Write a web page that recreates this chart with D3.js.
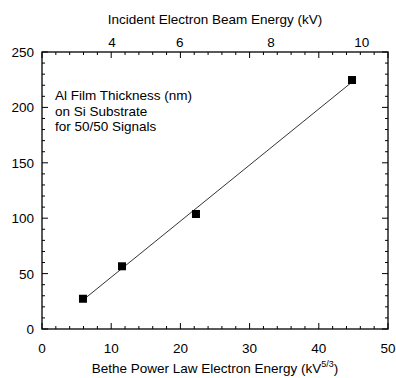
<!DOCTYPE html>
<html><head><meta charset="utf-8">
<script src="https://cdn.jsdelivr.net/npm/d3@7"></script>
<style>
html,body{margin:0;padding:0;background:#fff;}
svg{display:block;font-family:"Liberation Sans",Arial,sans-serif;}
</style></head>
<body>
<svg id="chart" width="396" height="378"></svg>
<script>
// Data
const betheEnergy = [5.92, 11.56, 22.25, 44.8];     // kV^(5/3)
const filmThickness = [27.3, 56.6, 103.8, 224.7];   // nm
const fitX = [5.92, 44.8];
const fitY = [26.1, 222.9];
const topTickLabels = ["4", "6", "8", "10"];        // incident beam energy (kV)
const topTickPos = [10.1, 19.9, 33.1, 46.2];        // position on Bethe axis
const annotationLines = ["Al Film Thickness (nm)", "on Si Substrate", "for 50/50 Signals"];

const svg = d3.select("#chart");
const m = {l: 42, r: 8, t: 52, b: 49};
const W = 396, H = 378;
const x = d3.scaleLinear().domain([0, 50]).range([m.l, W - m.r]);
const y = d3.scaleLinear().domain([0, 250]).range([H - m.b, m.t]);
const x0 = x.range()[0], x1 = x.range()[1], y0 = y.range()[0], y1 = y.range()[1];

const g = svg.append("g");
// frame
g.append("rect").attr("x", x0).attr("y", y1).attr("width", x1 - x0).attr("height", y0 - y1)
  .attr("fill", "none").attr("stroke", "#000").attr("stroke-width", 1.3);

const xMinor = d3.range(0, 51, 2).filter(v => v % 10 !== 0);
const xMajor = d3.range(0, 51, 10);
const yMinor = d3.range(0, 251, 10).filter(v => v % 50 !== 0);
const yMajor = d3.range(0, 251, 50);
const tk = g.append("g").attr("stroke", "#000").attr("stroke-width", 1);
function vt(vals, len) {
  vals.forEach(v => {
    tk.append("line").attr("x1", x(v)).attr("x2", x(v)).attr("y1", y0).attr("y2", y0 - len);
    tk.append("line").attr("x1", x(v)).attr("x2", x(v)).attr("y1", y1).attr("y2", y1 + len);
  });
}
function ht(vals, len) {
  vals.forEach(v => {
    tk.append("line").attr("y1", y(v)).attr("y2", y(v)).attr("x1", x0).attr("x2", x0 + len);
    tk.append("line").attr("y1", y(v)).attr("y2", y(v)).attr("x1", x1).attr("x2", x1 - len);
  });
}
vt(xMinor, 3); vt(xMajor, 6); ht(yMinor, 3); ht(yMajor, 6);

const fs = 13.5;
// bottom labels
g.selectAll(".xl").data(xMajor).enter().append("text")
  .attr("x", d => x(d)).attr("y", y0 + 24).attr("text-anchor", "middle")
  .attr("font-size", fs).attr("fill", "#000").text(d => d);
// left labels
g.selectAll(".yl").data(yMajor).enter().append("text")
  .attr("x", x0 - 8).attr("y", d => y(d) + 5).attr("text-anchor", "end")
  .attr("font-size", fs).attr("fill", "#000").text(d => d);
// top labels
g.selectAll(".tl").data(topTickLabels).enter().append("text")
  .attr("x", (d, i) => x(topTickPos[i])).attr("y", y1 - 5).attr("text-anchor", "middle")
  .attr("font-size", fs).attr("fill", "#000").text(d => d);

// titles
svg.append("text").attr("x", 215).attr("y", 24).attr("text-anchor", "middle")
  .attr("font-size", fs).attr("fill", "#000").text("Incident Electron Beam Energy (kV)");
const xt = svg.append("text").attr("x", 215).attr("y", 373).attr("text-anchor", "middle")
  .attr("font-size", fs).attr("fill", "#000");
xt.append("tspan").text("Bethe Power Law Electron Energy (kV");
xt.append("tspan").attr("font-size", 9).attr("dy", -6).text("5/3");
xt.append("tspan").attr("dy", 6).text(")");

// annotation
svg.append("g").selectAll("text").data(annotationLines).enter().append("text")
  .attr("x", 55).attr("y", (d, i) => 100 + i * 15.5)
  .attr("font-size", fs).attr("fill", "#000").text(d => d);

// fit line
g.append("line").attr("x1", x(fitX[0])).attr("y1", y(fitY[0]))
  .attr("x2", x(fitX[1])).attr("y2", y(fitY[1]))
  .attr("stroke", "#333").attr("stroke-width", 1);

// points
const s = 8;
g.selectAll(".pt").data(betheEnergy).enter().append("rect")
  .attr("x", (d) => x(d) - s / 2).attr("y", (d, i) => y(filmThickness[i]) - s / 2)
  .attr("width", s).attr("height", s).attr("fill", "#000");
</script>
</body></html>
